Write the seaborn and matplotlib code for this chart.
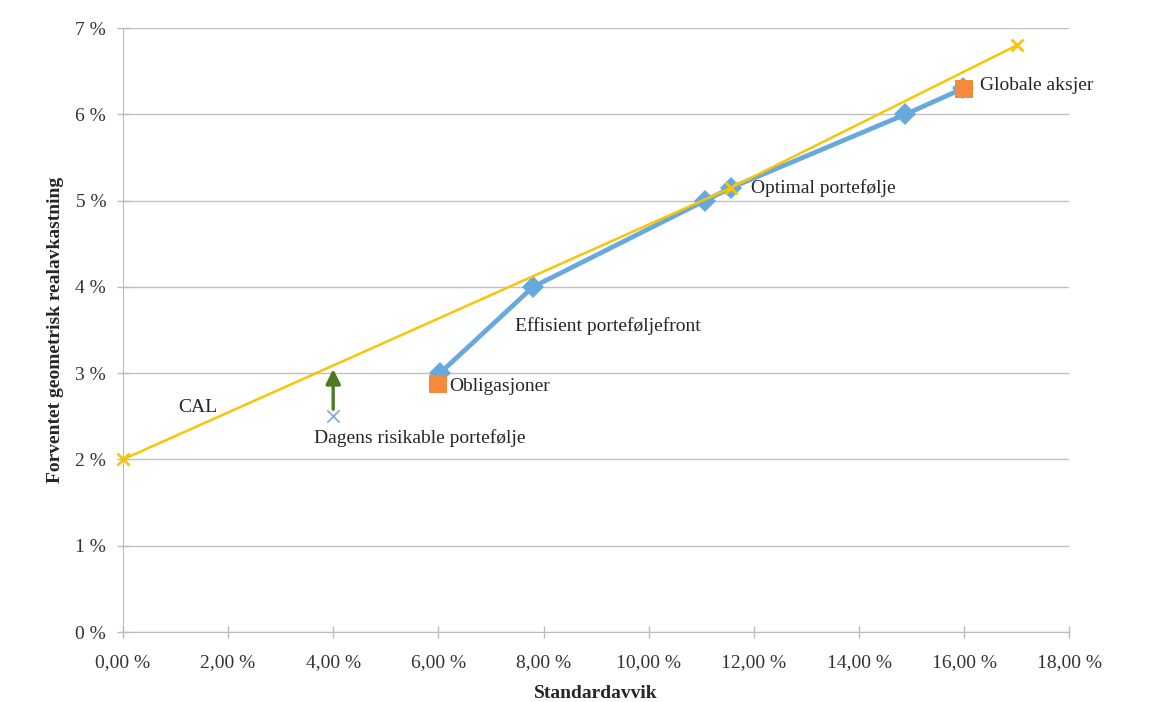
import matplotlib
matplotlib.use("Agg")
from matplotlib import pyplot as plt
from matplotlib.ticker import FuncFormatter
import pandas as pd
import seaborn as sns

# efficient frontier (std dev %, expected real return %)
front_sd = [6.03, 7.8, 11.07, 11.57, 14.88, 15.98]
front_ret = [3.0, 4.0, 5.0, 5.15, 6.0, 6.3]

# capital allocation line
cal_sd = [0.0, 11.57, 17.0]
cal_ret = [2.0, 5.15, 6.8]

# asset classes
asset_names = ["Obligasjoner", "Globale aksjer"]
asset_sd = [6.0, 16.0]
asset_ret = [2.87, 6.29]

# current portfolio
cur_sd = 4.0
cur_ret = 2.5
cur_target = 3.08

df_front = pd.DataFrame({"sd": front_sd, "ret": front_ret})
df_cal = pd.DataFrame({"sd": cal_sd, "ret": cal_ret})

sns.set_style("white")
plt.rcParams["font.family"] = ["Liberation Serif", "DejaVu Serif"]

fig = plt.figure(figsize=(11.7, 7.02), dpi=100)
ax = fig.add_axes([0.105, 0.0997, 0.809, 0.8603])

blue = "#67A9DC"
orange = "#F58A3C"
yellow = "#F7C508"

sns.lineplot(data=df_front, x="sd", y="ret", sort=False, color=blue, lw=3.4,
             marker="D", markersize=11, markeredgewidth=0, ax=ax, zorder=3)
sns.lineplot(data=df_cal, x="sd", y="ret", sort=False, color=yellow, lw=1.8,
             marker="x", markersize=8, markeredgewidth=2, markeredgecolor=yellow,
             ax=ax, zorder=4, clip_on=False)
ax.scatter(asset_sd, asset_ret, marker="s", s=150, color=orange, zorder=5, linewidths=0)
ax.scatter([cur_sd], [cur_ret], marker="x", s=80, color="#7FA7D8", linewidths=1.2, zorder=5)
ax.annotate("", xy=(cur_sd, cur_target), xytext=(cur_sd, cur_ret + 0.05),
            arrowprops=dict(arrowstyle="-|>", color="#4D7A22", lw=2.4, mutation_scale=22))

fs = 14
ax.text(1.05, 2.6, "CAL", fontsize=fs, va="center")
ax.text(cur_sd + 1.65, 2.25, "Dagens risikable portefølje", fontsize=fs, ha="center", va="center")
ax.text(6.2, 2.85, "Obligasjoner", fontsize=fs, va="center")
ax.text(7.45, 3.55, "Effisient porteføljefront", fontsize=fs, va="center")
ax.text(11.95, 5.14, "Optimal portefølje", fontsize=fs, va="center")
ax.text(16.3, 6.33, "Globale aksjer", fontsize=fs, va="center")

ax.set_xlim(0, 18)
ax.set_ylim(0, 7)
ax.set_xticks(range(0, 19, 2))
ax.set_yticks(range(0, 8))
ax.xaxis.set_major_formatter(FuncFormatter(lambda v, p: f"{v:.2f} %".replace(".", ",")))
ax.yaxis.set_major_formatter(FuncFormatter(lambda v, p: f"{v:.0f} %"))
ax.tick_params(axis="both", labelsize=14, colors="#BBBBBB", labelcolor="#333333",
               direction="inout", length=8, width=1, bottom=True, left=True)
ax.tick_params(axis="x", pad=12)
ax.tick_params(axis="y", pad=8)
ax.grid(axis="y", color="#C0C0C0", lw=1)
ax.set_axisbelow(True)
for s in ["top", "right"]:
    ax.spines[s].set_visible(False)
for s in ["left", "bottom"]:
    ax.spines[s].set_color("#BBBBBB")
ax.set_xlabel("Standardavvik", fontsize=14, fontweight="bold", labelpad=10)
ax.set_ylabel("Forventet geometrisk realavkastning", fontsize=14, fontweight="bold", labelpad=8)

fig.savefig("out.png", dpi=100)
